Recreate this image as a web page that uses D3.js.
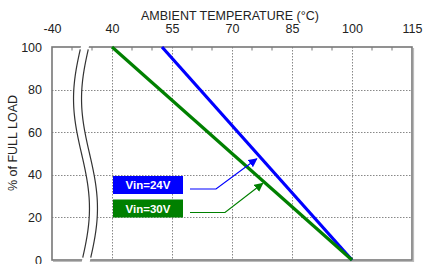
<!DOCTYPE html>
<html><head><meta charset="utf-8">
<script src="https://cdn.jsdelivr.net/npm/d3@7"></script>
<style>
html,body{margin:0;padding:0;background:#fff;}
text{font-family:"Liberation Sans",Arial,sans-serif;}
</style></head>
<body><svg id="c" width="423" height="264"></svg>
<script>
// ---- data ----
const xTickValues = [25, 40, 55, 70, 85, 100, 115];
const xTickLabels = ["-40", "40", "55", "70", "85", "100", "115"];
const xMinorTicks = [30, 35, 45, 50, 60, 65, 75, 80, 90, 95, 105, 110];
const yTickValues = [0, 20, 40, 60, 80, 100];
const seriesNames = ["Vin=24V", "Vin=30V"];
const seriesColors = ["#0000ff", "#008000"];
const vin24 = [[52.5, 100], [100, 0]];
const vin30 = [[40, 100], [100, 0]];
const arrowTarget = [[76.2, 47.5], [77.7, 36]];
const xTitle = "AMBIENT TEMPERATURE (°C)";
const yTitle = "% of FULL LOAD";

const svg = d3.select("#c");
const L = 52, R = 412, T = 47, B = 260;
const x = d3.scaleLinear().domain([25, 115]).range([L, R]);
const y = d3.scaleLinear().domain([0, 100]).range([B, T]);

// grid
const grid = svg.append("g").attr("stroke", "#888").attr("stroke-width", 1).attr("stroke-dasharray", "1.5,1.5");
grid.selectAll("line.v").data(xTickValues.slice(1, -1)).join("line")
  .attr("x1", d => Math.round(x(d)) + 0.5).attr("x2", d => Math.round(x(d)) + 0.5)
  .attr("y1", T).attr("y2", B);
grid.selectAll("line.h").data(yTickValues.slice(1, -1)).join("line")
  .attr("y1", d => Math.round(y(d)) + 0.5).attr("y2", d => Math.round(y(d)) + 0.5)
  .attr("x1", L).attr("x2", R);

// top axis
const xAxis = d3.axisTop(x).tickValues(xTickValues).tickSize(0).tickPadding(14)
  .tickFormat((d, i) => xTickLabels[i]);
const gx = svg.append("g").attr("transform", `translate(0,${T})`).call(xAxis);
gx.select(".domain").remove();
gx.selectAll("text").attr("font-size", 12.5).attr("fill", "#222").attr("font-family", "Liberation Sans, Arial");
// minor ticks (inward)
svg.append("g").selectAll("line").data(xMinorTicks).join("line")
  .attr("x1", d => x(d)).attr("x2", d => x(d)).attr("y1", T).attr("y2", T + 3.5)
  .attr("stroke", "#777").attr("stroke-width", 1);

// left axis
const yAxis = d3.axisLeft(y).tickValues(yTickValues).tickSize(0).tickPadding(10);
const gy = svg.append("g").attr("transform", `translate(${L},0)`).call(yAxis);
gy.select(".domain").remove();
gy.selectAll("text").attr("font-size", 12.5).attr("fill", "#222").attr("font-family", "Liberation Sans, Arial");

// frame
svg.append("rect").attr("x", L).attr("y", T).attr("width", R - L).attr("height", B - T)
  .attr("fill", "none").attr("stroke", "#777").attr("stroke-width", 1.6);
svg.append("path").attr("d", `M${R + 1.5},${T + 1} V${B + 1.5} H${L + 1}`)
  .attr("fill", "none").attr("stroke", "#bbb").attr("stroke-width", 1.2);

// series lines
const line = d3.line().x(d => x(d[0])).y(d => y(d[1]));
[vin24, vin30].forEach((s, i) => {
  svg.append("path").attr("d", line(s)).attr("fill", "none")
    .attr("stroke", seriesColors[i]).attr("stroke-width", 3.2);
});

// axis break
const N = 40;
const leftCurve = d3.range(N + 1).map(k => {
  const t = k / N;
  return [81.5 - 8 * Math.sin(2 * Math.PI * t), T - 3 + t * (B - T + 6)];
});
const gap = 8;
const rightCurve = leftCurve.map(p => [p[0] + gap, p[1]]);
const lg = d3.line().curve(d3.curveBasis);
svg.append("path").attr("d", lg(leftCurve) + "L" + lg(rightCurve.slice().reverse()).slice(1) + "Z")
  .attr("fill", "#fff").attr("stroke", "none");
[leftCurve, rightCurve].forEach(c => {
  svg.append("path").attr("d", lg(c.slice(1, -1))).attr("fill", "none")
    .attr("stroke", "#333").attr("stroke-width", 1.2);
});

// legend boxes + leaders
const boxX = 113, boxW = 70, boxH = 18;
const boxY = [176, 199.5];
const leadX = [216, 225];
svg.append("defs").selectAll("marker").data(seriesColors).join("marker")
  .attr("id", (d, i) => "ah" + i).attr("viewBox", "0 0 10 10").attr("refX", 9).attr("refY", 5)
  .attr("markerWidth", 9).attr("markerHeight", 9).attr("markerUnits", "userSpaceOnUse").attr("orient", "auto")
  .append("path").attr("d", "M0,0 L10,5 L0,10 Z").attr("fill", d => d);
seriesNames.forEach((n, i) => {
  svg.append("rect").attr("x", boxX).attr("y", boxY[i]).attr("width", boxW).attr("height", boxH)
    .attr("fill", seriesColors[i]);
  svg.append("text").attr("x", boxX + boxW / 2).attr("y", boxY[i] + boxH / 2 + 4)
    .attr("text-anchor", "middle").attr("fill", "#fff").attr("font-weight", "bold")
    .attr("font-size", 11.5).text(n);
  const ly = boxY[i] + boxH / 2 + 4;
  const tgt = arrowTarget[i];
  svg.append("path").attr("d", `M${boxX + boxW + 7},${ly} H${leadX[i]} L${x(tgt[0])},${y(tgt[1])}`)
    .attr("fill", "none").attr("stroke", seriesColors[i]).attr("stroke-width", 1.2)
    .attr("marker-end", `url(#ah${i})`);
});

// titles
svg.append("text").attr("x", 230).attr("y", 20).attr("text-anchor", "middle")
  .attr("font-size", 12.5).attr("fill", "#222").text(xTitle);
svg.append("text").attr("transform", "translate(17,143) rotate(-90)").attr("text-anchor", "middle")
  .attr("font-size", 12.5).attr("fill", "#222").text(yTitle);
</script></body></html>
